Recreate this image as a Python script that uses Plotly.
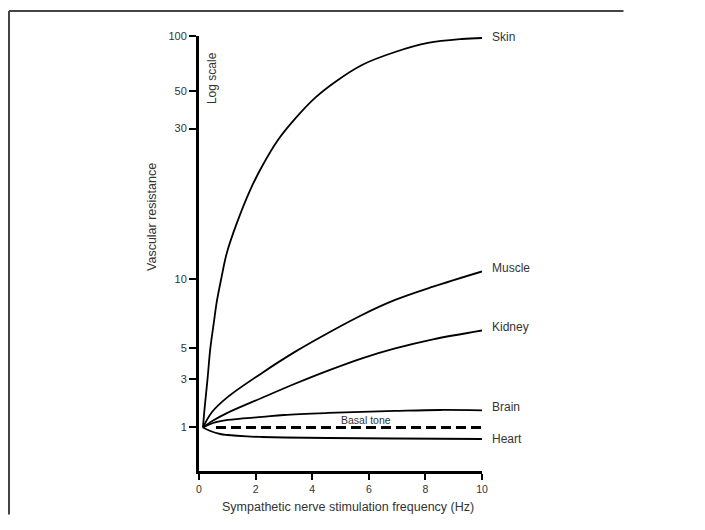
import numpy as np
import plotly.graph_objects as go

# ---- data (frequency in Hz, relative vascular resistance) ----
FREQ_SKIN = [0.14, 0.20, 0.30, 0.40, 0.53, 0.63, 0.78, 0.99, 1.34, 1.80, 2.23, 2.79,
             3.39, 4.10, 4.81, 5.76, 6.93, 8.09, 9.29, 10.0]
RES_SKIN = [1.0, 1.57, 2.97, 5.0, 6.56, 8.02, 10.0, 12.2, 15.1, 19.1, 22.8, 27.6,
            34.2, 45.5, 56.0, 69.4, 81.7, 91.6, 96.3, 97.5]

FREQ_MUSCLE = [0.14, 0.46, 1.02, 2.23, 3.39, 4.56, 5.76, 6.93, 8.27, 10.0]
RES_MUSCLE = [1.0, 1.42, 2.0, 3.32, 4.72, 5.84, 7.0, 8.14, 9.3, 10.6]

FREQ_KIDNEY = [0.14, 0.5, 1.02, 2.23, 3.39, 4.56, 5.76, 6.93, 8.27, 10.0]
RES_KIDNEY = [1.0, 1.17, 1.40, 1.96, 2.69, 3.45, 4.24, 5.0, 5.48, 5.99]

FREQ_BRAIN = [0.14, 0.5, 1.02, 2.23, 3.0, 4.56, 6.93, 8.5, 10.0]
RES_BRAIN = [1.0, 1.107, 1.185, 1.269, 1.327, 1.389, 1.453, 1.486, 1.47]

FREQ_HEART = [0.14, 0.4, 0.75, 1.02, 1.7, 2.23, 3.0, 4.56, 7.0, 10.0]
RES_HEART = [1.0, 0.924, 0.863, 0.844, 0.816, 0.806, 0.797, 0.788, 0.779, 0.771]

FREQ_BASAL = [0.6, 10.0]
RES_BASAL = [1.0, 1.0]

X_TICKS = [0, 2, 4, 6, 8, 10]
Y_TICKS = [1, 3, 5, 10, 30, 50, 100]
Y_TICK_LABELS = ["1", "3", "5", "10", "30", "50", "100"]
# The original's hand-drawn "log" axis is non-uniform: relative position of each tick
Y_SCALE_POS = [0.0, 0.328, 0.534, 1.0, 2.020, 2.274, 2.645]


def to_axis(values):
    """Map resistance values onto the original's schematic axis (log-piecewise)."""
    lv = np.log10(np.asarray(values, dtype=float))
    lt = np.log10(np.asarray(Y_TICKS, dtype=float))
    pos = np.interp(lv, lt, Y_SCALE_POS)
    slope = (Y_SCALE_POS[1] - Y_SCALE_POS[0]) / (lt[1] - lt[0])
    below = lv < lt[0]
    pos[below] = Y_SCALE_POS[0] + (lv[below] - lt[0]) * slope
    return pos


TXT = "#333333"
FONT = "Arial, Liberation Sans, Helvetica, sans-serif"

fig = go.Figure()

curves = [
    ("Skin", FREQ_SKIN, RES_SKIN, 1),
    ("Muscle", FREQ_MUSCLE, RES_MUSCLE, 3),
    ("Kidney", FREQ_KIDNEY, RES_KIDNEY, 3),
    ("Brain", FREQ_BRAIN, RES_BRAIN, 3),
    ("Heart", FREQ_HEART, RES_HEART, 0),
]
for name, fx, fy, _ in curves:
    fig.add_trace(go.Scatter(
        x=fx, y=to_axis(fy), mode="lines", name=name,
        line=dict(color="black", width=1.8, shape="spline", smoothing=1.0),
        hoverinfo="skip"))

fig.add_trace(go.Scatter(
    x=FREQ_BASAL, y=to_axis(RES_BASAL), mode="lines", name="Basal tone",
    line=dict(color="black", width=3, dash="10px,5px"), hoverinfo="skip"))

annotations = []
for name, fx, fy, ys in curves:
    annotations.append(dict(
        x=fx[-1], y=float(to_axis([fy[-1]])[0]), xref="x", yref="y",
        text=name, showarrow=False, xanchor="left", yanchor="middle",
        xshift=8, yshift=ys, font=dict(family=FONT, size=12, color=TXT)))

annotations += [
    dict(x=5.9, y=0.0, xref="x", yref="y", text="Basal tone", showarrow=False,
         xanchor="center", yanchor="middle", yshift=7,
         font=dict(family=FONT, size=10.5, color=TXT)),
    dict(x=0.46, y=2.361, xref="x", yref="y", text="Log scale", showarrow=False,
         textangle=-90, xanchor="center", yanchor="middle",
         font=dict(family=FONT, size=12, color=TXT)),
    dict(x=-0.166, y=0.584, xref="paper", yref="paper", text="Vascular resistance",
         showarrow=False, textangle=-90, xanchor="center", yanchor="middle",
         font=dict(family=FONT, size=12.5, color=TXT)),
    dict(x=0.5265, y=-0.0828, xref="paper", yref="paper",
         text="Sympathetic nerve stimulation frequency (Hz)", showarrow=False,
         xanchor="center", yanchor="middle",
         font=dict(family=FONT, size=12.5, color=TXT)),
]

FRAME = dict(color="#444444", width=2)
fig.update_layout(
    width=689, height=514,
    margin=dict(l=191, r=215, t=28, b=51),
    paper_bgcolor="white", plot_bgcolor="white",
    showlegend=False,
    annotations=annotations,
    shapes=[
        dict(type="line", xref="paper", yref="paper", x0=-0.6714, x1=-0.6714,
             y0=-0.1, y1=1.0575, line=FRAME, layer="below"),
        dict(type="line", xref="paper", yref="paper", x0=-0.6714, x1=1.5,
             y0=1.0575, y1=1.0575, line=FRAME, layer="below"),
    ],
    xaxis=dict(range=[0, 10], tickvals=X_TICKS, showline=True, linewidth=3,
               linecolor="black", ticks="outside", ticklen=6, tickwidth=2,
               tickcolor="black", showgrid=False, zeroline=False,
               tickfont=dict(family=FONT, size=10.5, color=TXT), fixedrange=True),
    yaxis=dict(range=[-0.294, 2.645], tickvals=list(to_axis(Y_TICKS)),
               ticktext=Y_TICK_LABELS, showline=True, linewidth=3,
               linecolor="black", ticks="outside", ticklen=7, tickwidth=2,
               tickcolor="black", showgrid=False, zeroline=False,
               tickfont=dict(family=FONT, size=11, color=TXT), fixedrange=True),
)

fig.write_html("out.html")
